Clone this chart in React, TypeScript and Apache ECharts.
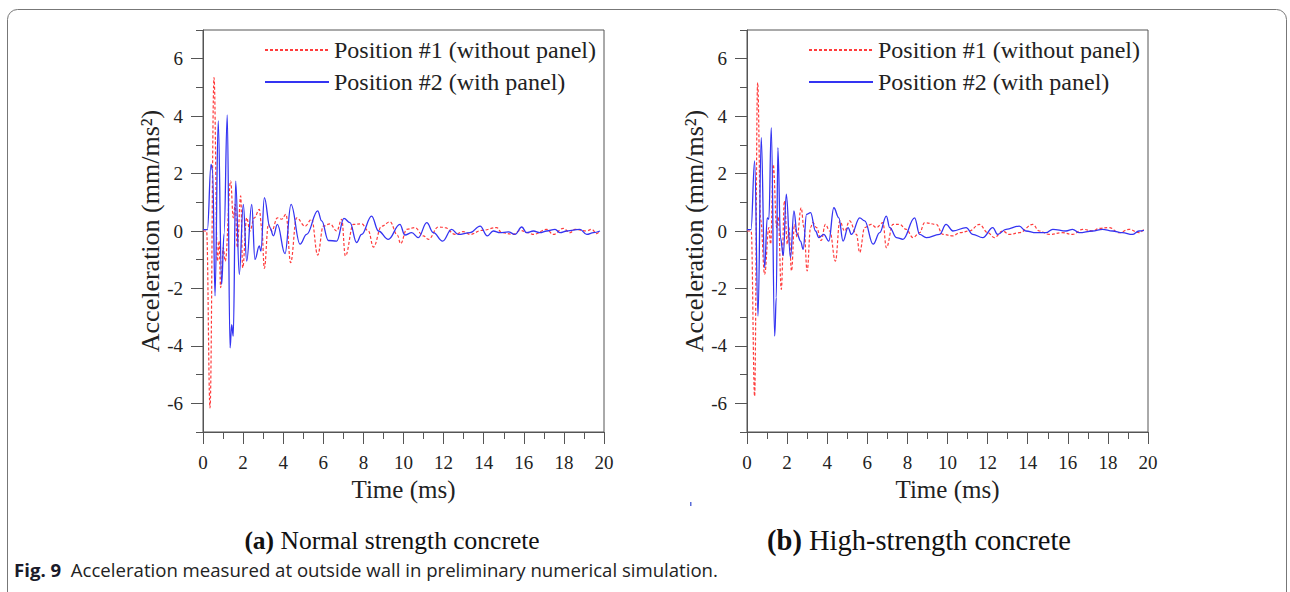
import React, { useEffect, useRef } from 'react';
import * as echarts from 'echarts';

// ---------- data (time in ms, acceleration in mm/ms^2) ----------
const seriesNames = ['Position #1 (without panel)', 'Position #2 (with panel)'];
const panelLabels = ['(a)', '(b)'];
const panelTitles = [' Normal strength concrete', ' High-strength concrete'];
const xMajorTicks = [0, 2, 4, 6, 8, 10, 12, 14, 16, 18, 20];
const yMajorTicks = [-6, -4, -2, 0, 2, 4, 6];

// (a) Normal strength concrete, position #1 (without panel)
const nscPos1: number[][] = [
  [0, 0], [0.18, 0], [0.35, -6.16], [0.55, 5.34], [0.72, -1.05], [0.8, -0.35], [0.88, -1.97],
  [1.01, -0.58], [1.11, -1.05], [1.38, 1.74], [1.51, 0.46], [1.61, 0.93], [1.71, -0.58],
  [1.88, 1.22], [1.98, -1.28], [2.18, 0.46], [2.34, 0.0], [2.56, 0.46], [2.81, 0.75],
  [2.93, 0.12], [3.06, -1.3], [3.26, 0.23], [3.43, 0.0], [3.71, 0.46], [3.92, 0.41],
  [4.14, 0.58], [4.37, -1.1], [4.67, 0.46], [5.09, 0.17], [5.42, 0.41], [5.72, -0.84],
  [6.0, 0.17], [6.33, 0.25], [6.67, 0.0], [6.92, 0.41], [7.1, -0.87], [7.5, 0.23],
  [7.91, 0.25], [8.25, 0.0], [8.5, -0.56], [8.91, 0.17], [9.33, 0.32], [9.69, -0.14],
  [9.86, -0.44], [10.16, 0.06], [10.57, 0.12], [10.99, -0.17], [11.24, -0.29], [11.74, 0.14],
  [12.07, 0.12], [12.57, -0.12], [12.98, -0.02], [13.32, -0.12], [13.9, 0.02], [14.65, 0.12],
  [14.9, -0.06], [15.48, -0.12], [15.81, 0.02], [16.23, -0.06], [16.48, -0.12], [17.14, 0.06],
  [17.47, -0.12], [17.97, 0.09], [18.31, -0.06], [18.55, 0.06], [19.14, 0], [19.39, 0.06],
  [19.63, -0.09], [19.8, 0.0],
];

// (a) Normal strength concrete, position #2 (with panel)
const nscPos2: number[][] = [
  [0, 0.05], [0.22, 0.05], [0.4, 2.32], [0.48, 2.1], [0.6, -2.26], [0.76, 3.83], [0.93, -1.86],
  [1.05, -0.1], [1.21, 4.04], [1.35, -4.07], [1.43, -3.26], [1.51, -3.66], [1.63, 1.74],
  [1.81, -1.51], [2.01, 0.93], [2.18, -1.05], [2.43, 0.93], [2.59, -0.99], [2.81, -0.52],
  [2.89, -0.7], [3.06, 1.16], [3.34, 0.12], [3.51, -0.17], [3.71, 0.23], [4.09, -0.79],
  [4.39, 0.93], [4.84, -0.46], [5.17, -0.12], [5.72, 0.7], [5.92, 0.35], [6.25, -0.33],
  [6.67, -0.35], [7.03, 0.44], [7.33, 0.29], [7.66, -0.4], [7.91, -0.12], [8.41, 0.52],
  [8.75, 0], [9.24, -0.29], [9.82, 0.23], [10.07, -0.14], [10.41, -0.06], [10.74, -0.23],
  [11.16, 0.29], [11.49, -0.06], [11.95, -0.35], [12.4, 0.06], [12.73, -0.12], [13.32, -0.06],
  [13.82, 0.17], [14.18, -0.17], [14.48, 0], [14.81, -0.06], [15.23, -0.03], [15.56, -0.12],
  [15.9, 0.14], [16.14, -0.06], [16.48, 0], [16.81, -0.06], [17.14, 0], [17.56, 0.06],
  [17.81, -0.06], [18.14, 0], [18.47, 0.03], [18.8, 0.06], [19.14, -0.12], [19.47, -0.06],
  [19.8, 0],
];

// (b) High-strength concrete, position #1 (without panel)
const hscPos1: number[][] = [
  [0, 0], [0.21, 0], [0.38, -5.75], [0.53, 5.17], [0.68, 0.4], [0.88, -1.51], [1.09, 0.12],
  [1.18, -0.46], [1.31, 2.32], [1.48, 0.12], [1.56, 0.5], [1.71, -2.03], [1.87, 1.05],
  [2.01, -0.46], [2.09, 0.12], [2.22, -1.39], [2.37, 0.23], [2.5, -0.21], [2.7, 0.81],
  [2.84, 0.12], [3.0, -1.39], [3.17, 0.12], [3.28, 0.29], [3.47, 0.12], [3.7, -0.33],
  [3.91, 0.23], [4.13, 0.0], [4.41, -1.05], [4.63, 0.35], [4.87, 0.0], [5.12, 0.35],
  [5.46, -0.12], [5.62, -0.75], [5.87, 0.12], [6.2, 0.23], [6.45, 0.12], [6.78, 0.29],
  [6.95, -0.58], [7.28, 0.23], [7.61, 0.23], [7.94, 0.06], [8.28, -0.23], [8.61, -0.06],
  [8.86, 0.29], [9.44, 0.23], [9.77, -0.12], [10.27, -0.17], [10.6, -0.06], [11.09, 0],
  [11.59, 0.23], [12.01, -0.06], [12.34, -0.23], [12.75, 0], [13.08, -0.12], [13.58, -0.06],
  [14.25, 0.23], [14.58, 0], [15.07, -0.12], [15.74, -0.06], [16.24, -0.12], [16.74, 0.06],
  [17.24, 0], [17.56, 0.09], [18.06, 0.12], [18.56, -0.06], [19.06, 0.06], [19.55, -0.06],
  [19.8, 0.06],
];

// (b) High-strength concrete, position #2 (with panel)
const hscPos2: number[][] = [
  [0, 0.05], [0.2, 0.05], [0.38, 2.44], [0.55, -2.96], [0.71, 3.25], [0.88, -1.28], [1.01, 0.46],
  [1.09, 0.41], [1.21, 3.6], [1.38, -3.66], [1.46, -2.32], [1.54, 2.9], [1.67, -0.23],
  [1.81, -0.86], [1.96, 1.28], [2.17, -0.93], [2.34, 0.7], [2.5, -0.1], [2.67, -0.35],
  [2.8, -0.64], [2.97, 0.58], [3.17, 0.64], [3.42, 0.0], [3.58, -0.23], [3.83, -0.12],
  [4.08, -0.35], [4.33, 0.81], [4.58, 0.46], [4.79, -0.35], [5.04, 0.12], [5.21, -0.12],
  [5.62, 0.46], [5.87, 0.35], [6.29, -0.46], [6.62, -0.06], [6.95, 0.52], [7.12, 0.12],
  [7.45, -0.23], [7.78, -0.29], [8.36, 0.46], [8.61, -0.12], [8.94, -0.23], [9.6, -0.12],
  [9.93, 0.23], [10.27, 0], [10.93, 0.12], [11.26, -0.12], [11.76, -0.23], [12.26, 0.12],
  [12.5, -0.12], [12.92, 0.06], [13.58, 0.17], [13.91, 0], [14.41, -0.06], [14.91, -0.06],
  [15.25, 0.06], [15.91, 0], [16.24, 0.06], [16.57, -0.06], [17.24, 0], [17.73, 0.06],
  [18.23, 0], [18.72, -0.06], [19.22, -0.12], [19.55, 0], [19.8, 0.02],
];

const panelData = [
  [nscPos1, nscPos2],
  [hscPos1, hscPos2],
];

// ---------- styling ----------
const SERIF = '"Liberation Serif", "Times New Roman", serif';
const SANS = '"Open Sans", "Noto Sans", sans-serif';
const RED = '#ff3c3c';
const BLUE = '#3434f2';
const AXIS = '#555';
const TEXT = '#222';

const gridLefts = [203, 747];

function buildOption() {
  const grid: any[] = [];
  const xAxis: any[] = [];
  const yAxis: any[] = [];
  const series: any[] = [];
  const legend: any[] = [];

  gridLefts.forEach((left, p) => {
    grid.push({
      left,
      top: 30,
      width: 401,
      height: 402,
      show: true,
      borderColor: AXIS,
      borderWidth: 1,
      backgroundColor: 'transparent',
    });
    xAxis.push({
      type: 'value',
      gridIndex: p,
      min: 0,
      max: 20,
      interval: 2,
      name: 'Time (ms)',
      nameLocation: 'middle',
      nameGap: 45,
      nameTextStyle: { fontFamily: SERIF, fontSize: 25, color: TEXT },
      axisLine: { show: true, onZero: false, lineStyle: { color: AXIS, width: 1 } },
      axisTick: { show: true, inside: false, length: 12, lineStyle: { color: AXIS } },
      minorTick: { show: true, splitNumber: 2, length: 7, lineStyle: { color: AXIS } },
      axisLabel: {
        margin: 21,
        fontFamily: SERIF,
        fontSize: 19,
        color: TEXT,
        customValues: xMajorTicks,
      },
      splitLine: { show: false },
      minorSplitLine: { show: false },
    });
    yAxis.push({
      type: 'value',
      gridIndex: p,
      min: -7,
      max: 7,
      interval: 1,
      name: 'Acceleration (mm/ms²)',
      nameLocation: 'middle',
      nameGap: 37,
      nameTextStyle: { fontFamily: SERIF, fontSize: 26, color: TEXT },
      axisLine: { show: true, onZero: false, lineStyle: { color: AXIS, width: 1 } },
      axisTick: { show: true, inside: false, length: 7, lineStyle: { color: AXIS } },
      axisLabel: {
        margin: 20,
        fontFamily: SERIF,
        fontSize: 19,
        color: TEXT,
        formatter: (v: number) => (Math.round(v) % 2 === 0 ? String(v) : ''),
      },
      splitLine: { show: false },
    });
    // overlay axis: longer major ticks at even values
    yAxis.push({
      type: 'value',
      gridIndex: p,
      min: -7,
      max: 7,
      position: 'left',
      offset: 0,
      axisLine: { show: false, onZero: false },
      axisTick: { show: true, inside: false, length: 12, lineStyle: { color: AXIS }, customValues: yMajorTicks },
      axisLabel: { show: false },
      splitLine: { show: false },
    });

    const [pos1, pos2] = panelData[p];
    series.push({
      name: seriesNames[0],
      type: 'line',
      xAxisIndex: p,
      yAxisIndex: p * 2,
      data: pos1,
      symbol: 'none',
      showSymbol: false,
      smooth: 0.4,
      smoothMonotone: 'x',
      lineStyle: { color: RED, width: 1.2, type: [3, 2] },
      itemStyle: { color: RED },
      z: 3,
    });
    series.push({
      name: seriesNames[1],
      type: 'line',
      xAxisIndex: p,
      yAxisIndex: p * 2,
      data: pos2,
      symbol: 'none',
      showSymbol: false,
      smooth: 0.4,
      smoothMonotone: 'x',
      lineStyle: { color: BLUE, width: 1.3, type: 'solid' },
      itemStyle: { color: BLUE },
      z: 4,
    });

    legend.push({
      show: true,
      orient: 'vertical',
      left: left + 56,
      top: 33,
      itemWidth: 64,
      itemHeight: 12,
      itemGap: 8,
      selectedMode: false,
      data: seriesNames,
      itemStyle: { opacity: 0, borderWidth: 0 },
      textStyle: { fontFamily: SERIF, fontSize: 24, color: TEXT },
    });
  });

  const captionX = [392, 919];
  const captionSize = [25.5, 28.5];
  const graphic: any[] = [
    {
      type: 'rect',
      silent: true,
      z: 0,
      shape: { x: 7.5, y: 9.5, width: 1279, height: 640, r: 10 },
      style: { fill: 'none', stroke: '#777', lineWidth: 1 },
    },
    {
      type: 'rect',
      silent: true,
      shape: { x: 690, y: 502, width: 1.5, height: 4 },
      style: { fill: '#5a6cd8' },
    },
    {
      type: 'text',
      x: 14,
      y: 569,
      style: {
        text: '{f|Fig. 9}  Acceleration measured at outside wall in preliminary numerical simulation.',
        fontFamily: SANS,
        fontSize: 18.6,
        fill: TEXT,
        verticalAlign: 'middle',
        rich: {
          f: { fontFamily: SANS, fontSize: 18.6, fontWeight: 'bold', fill: '#1a1a2a' },
        },
      },
    },
  ];
  captionX.forEach((cx, p) => {
    const fs = captionSize[p];
    graphic.push({
      type: 'text',
      x: cx,
      y: 540,
      style: {
        text: `{b|${panelLabels[p]}}${panelTitles[p]}`,
        fontFamily: SERIF,
        fontSize: fs,
        fill: '#111',
        align: 'center',
        verticalAlign: 'middle',
        rich: {
          b: { fontFamily: SERIF, fontSize: fs, fontWeight: 'bold', fill: '#111' },
        },
      },
    });
  });

  return {
    animation: false,
    backgroundColor: '#ffffff',
    grid,
    xAxis,
    yAxis,
    series,
    legend,
    graphic,
  };
}

export default function App() {
  const ref = useRef<HTMLDivElement>(null);
  useEffect(() => {
    if (!ref.current) return;
    const chart = echarts.init(ref.current, undefined, { renderer: 'svg' });
    chart.setOption(buildOption() as any);
    return () => chart.dispose();
  }, []);
  return (
    <div
      ref={ref}
      style={{ position: 'absolute', left: 0, top: 0, width: 1290, height: 592, background: '#fff' }}
    />
  );
}
